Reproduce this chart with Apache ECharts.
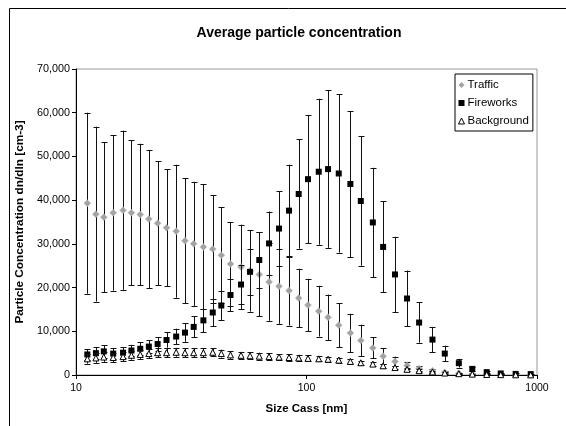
<!DOCTYPE html>
<html>
<head>
<meta charset="utf-8">
<script src="https://cdn.jsdelivr.net/npm/echarts@6/dist/echarts.min.js"></script>
<style>
  html, body { margin: 0; padding: 0; background: #fff; }
  #chart { width: 566px; height: 426px; }
</style>
</head>
<body>
<div id="chart"></div>
<script>
// size classes [nm]
var sizes = [11.2, 12.2, 13.2, 14.5, 16.0, 17.4, 19.0, 20.7, 22.6, 24.7, 27.2, 29.7, 32.4, 35.7, 39.2,
  42.7, 46.8, 52.0, 56.9, 62.4, 68.8, 76.0, 84.0, 92.5, 101.5, 113, 124, 138, 155, 172, 194,
  215, 242, 273, 308, 352, 398, 458, 524, 605, 696, 808, 939];

// values in thousands of cm-3
var traffic = [39.3, 36.8, 36.1, 37.1, 37.7, 37.1, 36.7, 35.7, 34.7, 33.7, 32.9, 30.7, 30.0, 29.3, 28.8,
  27.4, 25.4, 24.7, 23.8, 23.0, 21.3, 20.3, 19.3, 17.6, 16.0, 14.6, 13.2, 11.4, 9.6, 7.9, 6.2,
  4.3, 3.1, 2.2, 1.5, 1.0, 0.65, 0.4, 0.25, 0.15, 0.1, 0.06, 0.04];
var trafficErr = [20.7, 20.0, 17.1, 17.8, 18.2, 16.6, 16.2, 15.8, 14.2, 13.4, 15.2, 14.3, 14.2, 14.3, 12.4,
  11.0, 9.6, 9.7, 9.3, 9.6, 8.9, 8.6, 8.0, 6.7, 6.0, 5.8, 5.2, 5.0, 4.4, 3.6, 2.4,
  1.8, 1.1, 0.8, 0.5, 0.35, 0.25, 0.15, 0.1, 0.06, 0.04, 0.03, 0.02];

var fireworks = [4.7, 5.0, 5.4, 4.9, 5.1, 5.6, 6.0, 6.5, 7.1, 8.0, 8.8, 9.7, 11.0, 12.5, 14.3,
  15.9, 18.3, 20.7, 23.6, 26.3, 30.1, 33.5, 37.6, 41.4, 44.8, 46.5, 47.1, 46.1, 43.7, 39.8, 34.9,
  29.3, 23.0, 17.5, 12.0, 8.1, 4.9, 2.7, 1.4, 0.65, 0.35, 0.25, 0.2];
var fireworksErr = [1.2, 1.3, 1.4, 1.3, 1.3, 1.3, 1.5, 1.45, 1.5, 1.75, 1.8, 2.1, 2.4, 2.7, 3.1,
  3.3, 3.7, 4.5, 5.2, 6.3, 7.3, 8.5, 10.5, 12.5, 14.7, 16.7, 18.0, 18.1, 16.7, 14.8, 12.5,
  10.4, 8.6, 6.4, 4.6, 2.9, 1.8, 1.0, 0.5, 0.3, 0.2, 0.15, 0.1];

var background = [3.7, 3.9, 4.1, 4.0, 4.2, 4.5, 4.7, 4.9, 5.1, 5.1, 5.2, 5.1, 5.1, 5.1, 5.2,
  4.9, 4.6, 4.5, 4.4, 4.3, 4.2, 4.1, 4.0, 3.9, 3.8, 3.7, 3.6, 3.4, 3.1, 2.8, 2.5,
  2.1, 1.7, 1.3, 1.0, 0.7, 0.45, 0.3, 0.2, 0.12, 0.08, 0.05, 0.03];
var backgroundErr = [1.1, 1.1, 1.1, 1.0, 1.0, 1.0, 1.0, 1.0, 1.0, 1.0, 1.0, 1.0, 1.0, 1.0, 0.9,
  0.9, 0.9, 0.8, 0.8, 0.8, 0.8, 0.7, 0.7, 0.7, 0.7, 0.6, 0.6, 0.6, 0.6, 0.5, 0.5,
  0.5, 0.4, 0.35, 0.3, 0.25, 0.2, 0.15, 0.1, 0.08, 0.05, 0.04, 0.03];

var FONT = 'Liberation Sans, Arial, sans-serif';

function points(vals) {
  return sizes.map(function (s, i) { return [s, vals[i] * 1000]; });
}
function errPoints(vals, errs) {
  return sizes.map(function (s, i) { return [s, vals[i] * 1000, errs[i] * 1000]; });
}

function renderErr(params, api) {
  var x = api.value(0), y = api.value(1), e = api.value(2);
  var lo = api.coord([x, Math.max(y - e, 0)]);
  var hi = api.coord([x, y + e]);
  var px = Math.round(lo[0]) + 0.5;
  var w = 3;
  var st = { stroke: '#111', lineWidth: 1 };
  return {
    type: 'group',
    children: [
      { type: 'line', shape: { x1: px, y1: hi[1], x2: px, y2: lo[1] }, style: st },
      { type: 'line', shape: { x1: px - w, y1: Math.round(hi[1]) + 0.5, x2: px + w, y2: Math.round(hi[1]) + 0.5 }, style: st },
      { type: 'line', shape: { x1: px - w, y1: Math.round(lo[1]) + 0.5, x2: px + w, y2: Math.round(lo[1]) + 0.5 }, style: st }
    ]
  };
}

var chart = echarts.init(document.getElementById('chart'));
chart.setOption({
  animation: false,
  backgroundColor: '#fff',
  textStyle: { fontFamily: FONT },
  title: {
    text: 'Average particle concentration',
    left: 294,
    top: 21,
    textAlign: 'center',
    textStyle: { fontSize: 14, fontWeight: 'bold', color: '#000', fontFamily: FONT }
  },
  graphic: [{
    type: 'rect',
    shape: { x: 9.5, y: 8.5, width: 700, height: 700 },
    style: { fill: 'none', stroke: '#000', lineWidth: 1 },
    silent: true
  }],
  legend: {
    orient: 'vertical',
    left: 455,
    top: 74,
    padding: [5, 4, 4, 3],
    itemGap: 6,
    itemWidth: 6,
    itemHeight: 6,
    borderColor: '#000',
    borderWidth: 1,
    backgroundColor: '#fff',
    textStyle: { fontSize: 11.5, color: '#000', lineHeight: 12, padding: [0, 0, 0, -2], fontFamily: FONT },
    data: [
      { name: 'Traffic', icon: 'diamond', itemStyle: { color: '#a3a3a3', borderWidth: 0 } },
      { name: 'Fireworks', icon: 'rect', itemStyle: { color: '#000', borderWidth: 0 } },
      { name: 'Background', icon: 'triangle', itemStyle: { color: '#fff', borderColor: '#000', borderWidth: 1 } }
    ]
  },
  grid: {
    left: 76, right: 29, top: 69, bottom: 51,
    show: true, borderColor: '#999', borderWidth: 1
  },
  xAxis: {
    type: 'log',
    logBase: 10,
    min: 10,
    max: 1000,
    name: 'Size Cass [nm]',
    nameLocation: 'middle',
    nameGap: 28,
    nameTextStyle: { fontSize: 11.5, fontWeight: 'bold', color: '#000', fontFamily: FONT },
    axisLine: { lineStyle: { color: '#000', width: 1 } },
    axisTick: { show: true, length: 4, lineStyle: { color: '#000' } },
    minorTick: { show: false },
    splitLine: { show: false },
    axisLabel: {
      fontSize: 10.5, color: '#000', margin: 8, fontFamily: FONT,
      formatter: function (v) { return String(Math.round(v)); }
    }
  },
  yAxis: {
    type: 'value',
    min: 0,
    max: 70000,
    interval: 10000,
    name: 'Particle Concentration dn/dln [cm-3]',
    nameLocation: 'middle',
    nameRotate: 90,
    nameGap: 39,
    nameTextStyle: { fontSize: 11.8, fontWeight: 'bold', color: '#000', fontFamily: FONT },
    axisLine: { show: true, lineStyle: { color: '#000', width: 1 } },
    axisTick: { show: true, length: 4, lineStyle: { color: '#000' } },
    splitLine: { show: false },
    axisLabel: {
      fontSize: 10.8, color: '#000', margin: 6, fontFamily: FONT,
      formatter: function (v) { return v.toLocaleString('en-US'); }
    }
  },
  series: [
    {
      type: 'custom', name: 'TrafficErr', renderItem: renderErr,
      data: errPoints(traffic, trafficErr), encode: { x: 0, y: 1 }, z: 2
    },
    {
      type: 'scatter', name: 'Traffic', symbol: 'diamond', symbolSize: 7,
      itemStyle: { color: '#a3a3a3', borderColor: '#bdbdbd', borderWidth: 0.5, opacity: 1 },
      data: points(traffic), z: 3
    },
    {
      type: 'custom', name: 'FireworksErr', renderItem: renderErr,
      data: errPoints(fireworks, fireworksErr), encode: { x: 0, y: 1 }, z: 4
    },
    {
      type: 'scatter', name: 'Fireworks', symbol: 'rect', symbolSize: 6,
      itemStyle: { color: '#000', opacity: 1 },
      data: points(fireworks), z: 5
    },
    {
      type: 'custom', name: 'BackgroundErr', renderItem: renderErr,
      data: errPoints(background, backgroundErr), encode: { x: 0, y: 1 }, z: 6
    },
    {
      type: 'scatter', name: 'Background', symbol: 'triangle', symbolSize: 6,
      itemStyle: { color: '#fff', borderColor: '#000', borderWidth: 1, opacity: 1 },
      data: points(background), z: 7
    }
  ]
});
</script>
</body>
</html>
